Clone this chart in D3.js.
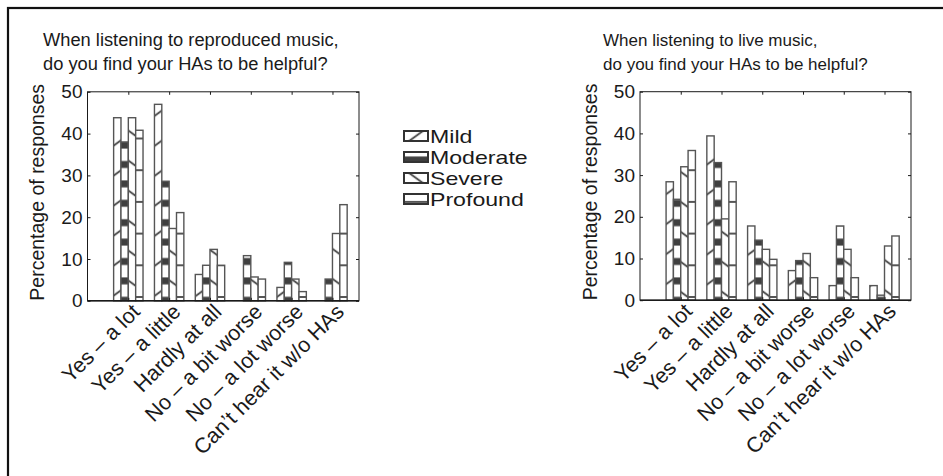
<!DOCTYPE html>
<html>
<head>
<meta charset="utf-8">
<script src="https://cdn.jsdelivr.net/npm/d3@7"></script>
<style>
  html, body { margin: 0; padding: 0; background: #fff; }
  svg { display: block; }
  text { font-family: "Liberation Sans", Arial, Helvetica, sans-serif; fill: #1a1a1a; }
</style>
</head>
<body>
<svg id="fig" width="943" height="476"></svg>
<script>
// Response categories shared by both panels
const categories = ["Yes – a lot", "Yes – a little", "Hardly at all",
  "No – a bit worse", "No – a lot worse", "Can’t hear it w/o HAs"];
const severities = ["Mild", "Moderate", "Severe", "Profound"];

// Reproduced music (percentage of responses)
const reproducedMild     = [43.8, 47.0, 6.3, 0.0, 3.2, 0.0];
const reproducedModerate = [38.0, 28.6, 8.5, 10.8, 9.2, 5.2];
const reproducedSevere   = [43.8, 17.3, 12.3, 5.7, 5.2, 16.1];
const reproducedProfound = [40.8, 21.1, 8.5, 5.2, 2.2, 23.0];

// Live music (percentage of responses)
const liveMild     = [28.4, 39.4, 17.8, 7.1, 3.5, 3.5];
const liveModerate = [24.2, 33.0, 14.4, 9.5, 17.8, 1.2];
const liveSevere   = [32.0, 19.5, 12.2, 11.2, 12.2, 13.0];
const liveProfound = [35.9, 28.4, 9.8, 5.4, 5.4, 15.4];

const yTicks = [0, 10, 20, 30, 40, 50];
const yLabel = "Percentage of responses";
const titleReproduced = ["When listening to reproduced music,", "do you find your HAs to be helpful?"];
const titleLive = ["When listening to live music,", "do you find your HAs to be helpful?"];

const svg = d3.select("#fig");
const defs = svg.append("defs");
const INK = "#555";
const BAND = "#3f3f3f";

// Hatch fills are anchored in page space, so the stripes keep one phase everywhere.
function makePattern(id, kind, ax, ay) {
  const p = defs.append("pattern").attr("id", id)
    .attr("patternUnits", "userSpaceOnUse");
  if (kind === "Mild" || kind === "Severe") {
    const period = 30;
    p.attr("width", 50).attr("height", period)
      .attr("patternTransform", `translate(${ax},${ay - period / 2}) skewY(${kind === "Mild" ? -36 : 36})`);
    p.append("rect").attr("width", 50).attr("height", period).attr("fill", "#fff");
    p.append("line").attr("x1", 0).attr("x2", 50).attr("y1", period / 2).attr("y2", period / 2)
      .attr("stroke", INK).attr("stroke-width", 2.4);
  } else if (kind === "Moderate") {
    const period = 19.4;
    p.attr("width", 50).attr("height", period)
      .attr("patternTransform", `translate(0,${ay - period / 2})`);
    p.append("rect").attr("width", 50).attr("height", period).attr("fill", "#fff");
    p.append("rect").attr("y", period / 2 - 3.5).attr("width", 50).attr("height", 7).attr("fill", BAND);
  } else {
    const period = 31.7;
    p.attr("width", 50).attr("height", period)
      .attr("patternTransform", `translate(0,${ay - period / 2})`);
    p.append("rect").attr("width", 50).attr("height", period).attr("fill", "#fff");
    p.append("line").attr("x1", 0).attr("x2", 50).attr("y1", period / 2).attr("y2", period / 2)
      .attr("stroke", INK).attr("stroke-width", 2.2);
  }
}
makePattern("fill-Mild", "Mild", 120, 291);
makePattern("fill-Moderate", "Moderate", 0, 164.5);
makePattern("fill-Severe", "Severe", 134.5, 285);
makePattern("fill-Profound", "Profound", 0, 297);

// Outer frame
svg.append("rect").attr("x", 8).attr("y", 8).attr("width", 1000).attr("height", 1000)
  .attr("fill", "none").attr("stroke", "#111").attr("stroke-width", 2.2);

function panel(cfg) {
  const { left, right, top, bottom, series, title, titleX, titleSize, labelX } = cfg;
  const x = d3.scaleLinear().domain([0, 6.65]).range([left, right]);
  const y = d3.scaleLinear().domain([0, 50]).range([bottom, top]);
  const bw = x(0.18) - x(0);

  // grouped bars, one hatch fill per severity
  severities.forEach((s, j) => {
    svg.append("g").selectAll("rect")
      .data(series[j].map((v, i) => ({ v, i })).filter(d => d.v > 0))
      .join("rect")
      .attr("x", d => x(d.i + 1) + (j - 2) * bw)
      .attr("y", d => y(d.v))
      .attr("width", bw)
      .attr("height", d => y(0) - y(d.v))
      .attr("fill", `url(#fill-${s})`)
      .attr("stroke", INK).attr("stroke-width", 1.4);
  });

  // axes box and baseline
  svg.append("rect").attr("x", left).attr("y", top)
    .attr("width", right - left).attr("height", bottom - top)
    .attr("fill", "none").attr("stroke", "#1a1a1a").attr("stroke-width", 1);
  svg.append("line").attr("x1", left).attr("x2", right).attr("y1", y(0)).attr("y2", y(0))
    .attr("stroke", "#1a1a1a").attr("stroke-width", 1.6);

  const catIdx = d3.range(1, categories.length + 1);

  const gl = svg.append("g").attr("transform", `translate(${left},0)`)
    .call(d3.axisLeft(y).tickValues(yTicks).tickSize(-3).tickSizeOuter(0).tickPadding(5));
  const gr = svg.append("g").attr("transform", `translate(${right},0)`)
    .call(d3.axisRight(y).tickValues(yTicks).tickSize(-3).tickSizeOuter(0).tickFormat(""));
  const gt = svg.append("g").attr("transform", `translate(0,${top})`)
    .call(d3.axisTop(x).tickValues(catIdx).tickSize(-3).tickSizeOuter(0).tickFormat(""));
  const gb = svg.append("g").attr("transform", `translate(0,${bottom})`)
    .call(d3.axisBottom(x).tickValues(catIdx).tickSize(-3).tickSizeOuter(0)
      .tickFormat(d => categories[d - 1]));
  [gl, gr, gt, gb].forEach(g => {
    g.select(".domain").remove();
    g.selectAll(".tick line").attr("stroke", "#1a1a1a");
    g.attr("font-family", null).attr("font-size", null);
  });
  gl.selectAll(".tick text").attr("font-size", 19).attr("fill", "#1a1a1a");
  gb.selectAll(".tick text")
    .attr("font-size", 21.5).attr("fill", "#1a1a1a")
    .attr("x", 0).attr("y", 0).attr("dy", "0.35em")
    .attr("text-anchor", "end")
    .attr("transform", "translate(7,7) rotate(-45)");

  // y label
  svg.append("text")
    .attr("transform", `translate(${labelX},${(top + bottom) / 2 - 4}) rotate(-90)`)
    .attr("text-anchor", "middle").attr("font-size", 19.5).text(yLabel);

  // two-line title
  title.forEach((line, k) => {
    svg.append("text")
      .attr("x", titleX).attr("y", 46 + k * 24)
      .attr("font-size", titleSize).text(line);
  });
}

panel({ left: 87.5, right: 359, top: 91.8, bottom: 300.8, titleX: 43, titleSize: 18.3, labelX: 44,
  series: [reproducedMild, reproducedModerate, reproducedSevere, reproducedProfound],
  title: titleReproduced });
panel({ left: 640, right: 911, top: 91.7, bottom: 300.2, titleX: 603, titleSize: 17, labelX: 597,
  series: [liveMild, liveModerate, liveSevere, liveProfound],
  title: titleLive });

// Legend
makePattern("key-Mild", "Mild", 416, 136);
makePattern("key-Moderate", "Moderate", 0, 160);
makePattern("key-Severe", "Severe", 416, 178);
makePattern("key-Profound", "Profound", 0, 297);
const legend = svg.append("g");
const rowY = d3.scalePoint().domain(severities).range([131, 194]);
severities.forEach(s => {
  legend.append("rect").attr("x", 404).attr("y", rowY(s)).attr("width", 24).attr("height", 10)
    .attr("fill", `url(#key-${s})`).attr("stroke", "#333").attr("stroke-width", 2);
  legend.append("text")
    .attr("transform", `translate(430,${rowY(s) + 11.5}) scale(1.25,1)`)
    .attr("font-size", 18.5).text(s);
});
</script>
</body>
</html>
